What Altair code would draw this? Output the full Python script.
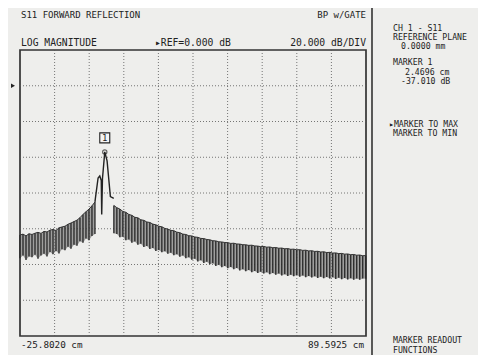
import altair as alt
import pandas as pd

# ---------------- data ----------------
X_START = -25.8020   # cm
X_STOP = 89.5925     # cm
Y_TOP = 20.0         # dB (top of graticule)
Y_BOTTOM = -140.0    # dB (bottom of graticule)
REF_DB = 0.0
MARKER_CM = 2.4696
MARKER_DB = -37.010

x_grid = [-14.2626, -2.7231, 8.8163, 20.3558, 31.8952, 43.4347, 54.9741, 66.5136, 78.0530]
y_grid = [0, -20, -40, -60, -80, -100, -120]

# ringing band left of the peak: upper and lower envelope (dB)
left_cm = [-25.8, -24.8, -23.8, -22.8, -21.8, -20.8, -19.8, -18.8, -17.8, -16.8,
           -15.8, -14.8, -13.8, -12.8, -11.8, -10.8, -9.8, -8.8, -7.8, -6.8,
           -5.8, -4.8, -3.8, -2.8, -1.8, -0.8]
left_top = [-83.5, -83.0, -84.0, -82.8, -83.2, -82.5, -82.0, -82.6, -81.5, -81.8,
            -80.8, -80.4, -81.0, -79.5, -79.0, -78.6, -77.5, -76.8, -76.0, -75.2,
            -73.8, -72.0, -70.5, -69.0, -67.2, -65.0]
left_bot = [-96.5, -95.0, -97.5, -95.5, -96.0, -94.5, -96.8, -95.0, -94.0, -95.5,
            -93.0, -94.2, -92.5, -93.8, -91.5, -92.0, -90.0, -91.2, -89.0, -89.5,
            -87.0, -87.8, -85.5, -86.5, -84.0, -83.0]

# main reflection peak
peak_cm = [-0.8, -0.66, 0.24, 0.8, 1.3, 1.45, 1.7, 2.47, 3.24, 4.34, 5.47]
peak_db = [-65.0, -63.0, -51.6, -50.5, -53.0, -72.0, -52.0, -37.01, -42.0, -62.0, -63.0]

# ringing band right of the peak
right_cm = [5.5, 6.5, 7.5, 8.5, 9.5, 10.5, 11.5, 12.5, 13.5, 14.5,
            15.5, 16.5, 17.5, 18.5, 19.5, 20.5, 21.5, 22.5, 23.5, 24.5,
            25.5, 26.5, 27.5, 28.5, 29.5, 30.5, 31.5, 32.5, 33.5, 34.5,
            35.5, 36.5, 37.5, 38.5, 39.5, 40.5, 41.5, 42.5, 43.5, 44.5,
            45.5, 46.5, 47.5, 48.5, 49.5, 50.5, 51.5, 52.5, 53.5, 54.5,
            55.5, 56.5, 57.5, 58.5, 59.5, 60.5, 61.5, 62.5, 63.5, 64.5,
            65.5, 66.5, 67.5, 68.5, 69.5, 70.5, 71.5, 72.5, 73.5, 74.5,
            75.5, 76.5, 77.5, 78.5, 79.5, 80.5, 81.5, 82.5, 83.5, 84.5,
            85.5, 86.5, 87.5, 88.5, 89.5]
right_top = [-67.0, -68.2, -69.0, -70.3, -70.8, -72.0, -72.5, -73.6, -73.9, -75.0,
             -75.3, -76.2, -76.5, -77.4, -77.8, -78.6, -78.9, -79.8, -80.2, -80.9,
             -81.1, -81.9, -82.2, -83.0, -83.2, -83.9, -84.0, -84.6, -84.8, -85.4,
             -85.5, -86.0, -86.2, -86.7, -86.8, -87.3, -87.4, -87.7, -87.8, -88.2,
             -88.1, -88.5, -88.6, -88.9, -89.0, -89.3, -89.2, -89.6, -89.7, -90.0,
             -89.9, -90.3, -90.2, -90.6, -90.5, -90.9, -90.8, -91.2, -91.1, -91.5,
             -91.4, -91.8, -91.7, -92.1, -92.0, -92.4, -92.3, -92.7, -92.6, -93.0,
             -92.9, -93.3, -93.2, -93.6, -93.5, -93.9, -93.8, -94.2, -94.1, -94.5,
             -94.4, -94.8, -94.7, -95.1, -95.0]
right_bot = [-82.5, -83.0, -84.8, -84.5, -86.5, -86.0, -87.8, -87.2, -89.0, -88.4,
             -90.2, -89.6, -91.3, -90.8, -92.4, -91.9, -93.2, -92.6, -94.0, -93.4,
             -94.8, -94.2, -95.6, -95.0, -96.5, -95.9, -97.4, -96.8, -98.3, -97.6,
             -99.1, -98.5, -99.9, -99.3, -100.8, -100.1, -101.5, -100.8, -102.1, -101.4,
             -102.7, -102.0, -103.3, -102.6, -103.8, -103.1, -104.3, -103.6, -104.7, -104.0,
             -105.1, -104.4, -105.5, -104.8, -105.8, -105.1, -106.1, -105.4, -106.4, -105.7,
             -106.6, -105.9, -106.9, -106.2, -107.1, -106.4, -107.3, -106.6, -107.5, -106.8,
             -107.7, -107.0, -107.9, -107.2, -108.1, -107.4, -108.3, -107.6, -108.4, -107.7,
             -108.5, -107.8, -108.6, -107.9, -108.0]

# ---------------- tables ----------------
left_df = pd.DataFrame({"cm": left_cm, "top": left_top, "bot": left_bot})
right_df = pd.DataFrame({"cm": right_cm, "top": right_top, "bot": right_bot})
band_df = pd.concat([left_df, right_df], ignore_index=True)
peak_df = pd.DataFrame({"cm": peak_cm, "db": peak_db})
marker_df = pd.DataFrame({"cm": [MARKER_CM], "db": [MARKER_DB], "label": ["1"]})
xg_df = pd.DataFrame({"cm": x_grid})
yg_df = pd.DataFrame({"db": y_grid})
ref_df = pd.DataFrame({"db": [REF_DB]})

W, H = 346, 286
FONT = "DejaVu Sans Mono"
INK = "#222222"

xs = alt.Scale(domain=[X_START, X_STOP], nice=False, zero=False)
ys = alt.Scale(domain=[Y_BOTTOM, Y_TOP], nice=False, zero=False)

grid_v = alt.Chart(xg_df).mark_rule(color="#555", strokeWidth=0.8, strokeDash=[1, 2]).encode(
    x=alt.X("cm:Q", scale=xs, axis=None))
grid_h = alt.Chart(yg_df).mark_rule(color="#555", strokeWidth=0.8, strokeDash=[1, 2]).encode(
    y=alt.Y("db:Q", scale=ys, axis=None))

area_l = alt.Chart(left_df).mark_area(color="#6a6a6a", opacity=0.6).encode(
    x=alt.X("cm:Q", scale=xs, axis=None), y=alt.Y("top:Q", scale=ys, axis=None), y2="bot:Q")
area_r = alt.Chart(right_df).mark_area(color="#6a6a6a", opacity=0.6).encode(
    x=alt.X("cm:Q", scale=xs, axis=None), y=alt.Y("top:Q", scale=ys, axis=None), y2="bot:Q")
rules = alt.Chart(band_df).mark_rule(color="#262626", strokeWidth=1.3).encode(
    x=alt.X("cm:Q", scale=xs, axis=None), y=alt.Y("top:Q", scale=ys, axis=None), y2="bot:Q")
top_l = alt.Chart(left_df).mark_line(color="#333", strokeWidth=1.0).encode(
    x=alt.X("cm:Q", scale=xs, axis=None), y=alt.Y("top:Q", scale=ys, axis=None))
top_r = alt.Chart(right_df).mark_line(color="#333", strokeWidth=1.0).encode(
    x=alt.X("cm:Q", scale=xs, axis=None), y=alt.Y("top:Q", scale=ys, axis=None))

peak = alt.Chart(peak_df).mark_line(color="#222", strokeWidth=1.4).encode(
    x=alt.X("cm:Q", scale=xs, axis=None), y=alt.Y("db:Q", scale=ys, axis=None), order="cm:Q")

marker = alt.Chart(marker_df).mark_point(shape="circle", size=18, filled=False,
                                         color="#222", strokeWidth=1.2).encode(
    x=alt.X("cm:Q", scale=xs, axis=None), y=alt.Y("db:Q", scale=ys, axis=None))
marker_box = alt.Chart(marker_df).mark_point(shape="square", size=100, filled=True, fill="#f4f4f4",
                                             stroke="#222", strokeWidth=1.1, yOffset=-14, opacity=1).encode(
    x=alt.X("cm:Q", scale=xs, axis=None), y=alt.Y("db:Q", scale=ys, axis=None))
marker_txt = alt.Chart(marker_df).mark_text(font=FONT, fontSize=9, color="#222", dy=-14,
                                            baseline="middle").encode(
    x=alt.X("cm:Q", scale=xs, axis=None), y=alt.Y("db:Q", scale=ys, axis=None), text="label:N")

ref_arrow = alt.Chart(ref_df).mark_point(shape="triangle-right", filled=True, size=22,
                                         color="#222", opacity=1).encode(
    x=alt.value(-7), y=alt.Y("db:Q", scale=ys, axis=None))

sep = alt.Chart(ref_df).mark_rule(color="#333", strokeWidth=1.6).encode(
    x=alt.value(352), y=alt.value(-50), y2=alt.value(320))


def label(text, x, y, size=9, align="left"):
    return alt.Chart(ref_df).mark_text(text=text, font=FONT, fontSize=size, color=INK,
                                       align=align, baseline="alphabetic").encode(
        x=alt.value(x), y=alt.value(y))


texts = [
    label("S11 FORWARD REFLECTION", 1, -32),
    label("BP w/GATE", 346, -32),
    label("LOG MAGNITUDE", 1, -4, size=9.7),
    label("\u25b8REF=0.000 dB", 135, -4, size=9.7),
    label("20.000 dB/DIV", 346, -4, size=9.7, align="right"),
    label("-25.8020 cm", 1, 298, size=9.3),
    label("89.5925 cm", 344, 298, size=9.3, align="right"),
    label("CH 1 - S11", 373, -19, size=8.2),
    label("REFERENCE PLANE", 373, -10, size=8.2),
    label("0.0000 mm", 381, -1, size=8.2),
    label("MARKER 1", 373, 15, size=8.2),
    label("2.4696 cm", 385, 25, size=8.2),
    label("-37.010 dB", 381, 34, size=8.2),
    label("\u25b8MARKER TO MAX", 369, 77, size=8.2),
    label("MARKER TO MIN", 373, 86, size=8.2),
    label("MARKER READOUT", 373, 293, size=8.2),
    label("FUNCTIONS", 373, 303, size=8.2),
]
texts[1] = label("BP w/GATE", 346, -32, align="right")

chart = alt.layer(
    grid_v, grid_h, area_l, area_r, rules, top_l, top_r, peak,
    marker, marker_box, marker_txt, ref_arrow, sep, *texts
).properties(
    width=W, height=H,
    autosize=alt.AutoSizeParams(type="none"),
    padding={"left": 12, "top": 42, "right": 112, "bottom": 19},
    background="#eeeeec",
).configure_view(stroke="#333", strokeWidth=1.7)

chart.save("out.html", embed_options={"renderer": "svg", "actions": False})
